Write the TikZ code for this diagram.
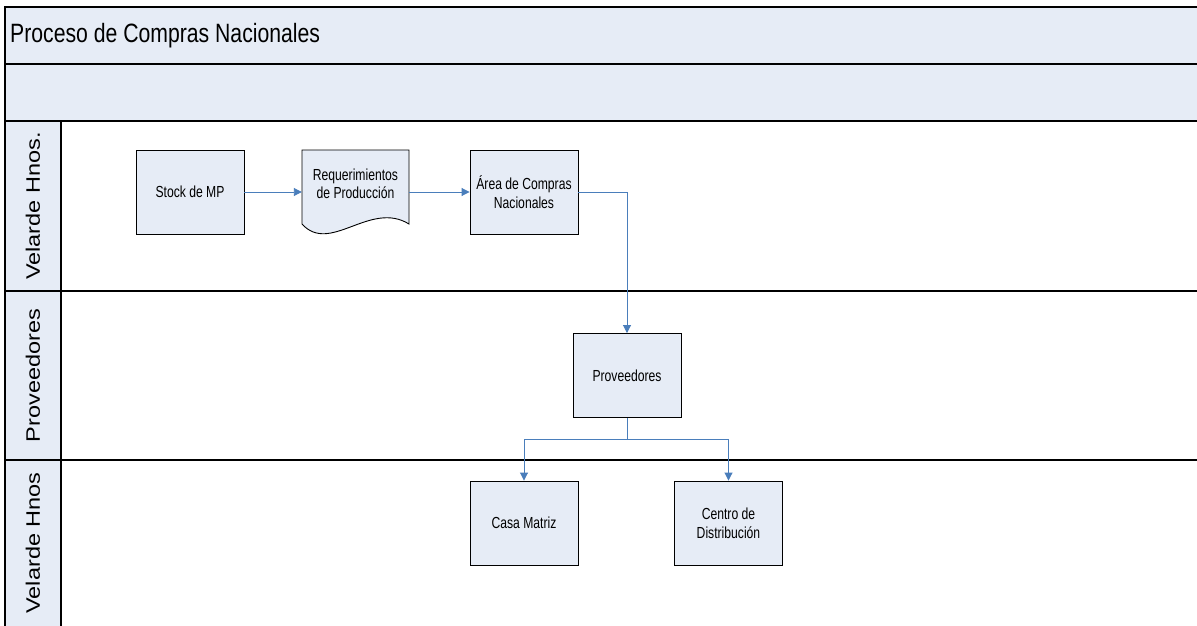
\documentclass[tikz,border=0pt]{standalone}
\usepackage{fontspec}
\setmainfont{Liberation Sans}
\newfontfamily\boxfont{Liberation Sans}[FakeStretch=0.76]
\newfontfamily\titlefont{Liberation Sans}[FakeStretch=0.80]
\newfontfamily\lanefont{Liberation Sans}
\usetikzlibrary{arrows.meta}
\definecolor{paneblue}{HTML}{E6ECF6}
\definecolor{flowblue}{HTML}{4A7EBB}
\tikzset{
  frame/.style={draw=black, line width=1.2pt},
  procbox/.style={draw=black, line width=0.9pt, fill=paneblue, minimum width=108pt,
    minimum height=84pt, inner sep=0pt, align=center, font=\boxfont\fontsize{16}{19}\selectfont},
  flow/.style={draw=flowblue, line width=0.9pt, -{Triangle[length=8pt,width=8pt]}},
  lanelabel/.style={rotate=90, font=\lanefont\fontsize{23.5}{26}\selectfont}
}
\newcommand{\lanetext}[1]{\scalebox{1}[0.83]{#1}}
\begin{document}
\begin{tikzpicture}[x=1pt, y=-1pt]
  \useasboundingbox (0,0) rectangle (1197,626);
  \fill[white] (0,0) rectangle (1197,626);
  % header bands and lane label column
  \fill[paneblue] (5,7) rectangle (1197,121);
  \fill[paneblue] (5,121) rectangle (61,626);
  \draw[frame] (5,626) -- (5,7) -- (1197,7);
  \draw[frame] (5,64) -- (1197,64);
  \draw[frame] (5,121) -- (1197,121);
  \draw[frame] (5,291) -- (1197,291);
  \draw[frame] (5,460) -- (1197,460);
  \draw[frame] (61,121) -- (61,626);
  \node[anchor=base west, inner sep=0pt, font=\titlefont\fontsize{26.5}{30}\selectfont] (title) at (10,43) {Proceso de Compras Nacionales};
  % lane names
  \node[lanelabel] (lane1) at (33,206) {\lanetext{Velarde Hnos.}};
  \node[lanelabel] (lane2) at (33,375.5) {\lanetext{Proveedores}};
  \node[lanelabel] (lane3) at (33,543) {\lanetext{Velarde Hnos}};
  % process steps
  \node[procbox] (stock) at (190,192) {Stock de MP};
  \draw[draw=black, line width=0.9pt, fill=paneblue] (302,150) -- (409,150) -- (409,224)
    .. controls (370,200) and (330,255) .. (302,224) -- cycle;
  \node[minimum width=107pt, minimum height=84pt, inner sep=0pt, align=center,
    font=\boxfont\fontsize{16}{17.5}\selectfont] (req) at (355.5,184) {Requerimientos\\de Producción};
  \node[procbox] (area) at (524,192) {Área de Compras\\Nacionales};
  \node[procbox] (prov) at (627,375.5) {Proveedores};
  \node[procbox] (casa) at (524,523) {Casa Matriz};
  \node[procbox] (centro) at (728.5,523) {Centro de\\Distribución};
  \coordinate (split) at (627,439);
  % connectors
  \draw[flow] (stock.east) -- (stock.east -| req.west);
  \draw[flow] (stock.east -| req.east) -- (area.west);
  \draw[flow] (area.east) -| (prov.north);
  \draw[draw=flowblue, line width=0.9pt] (prov.south) -- (split);
  \draw[flow] (split) -| (casa.north);
  \draw[flow] (split) -| (centro.north);
\end{tikzpicture}
\end{document}
